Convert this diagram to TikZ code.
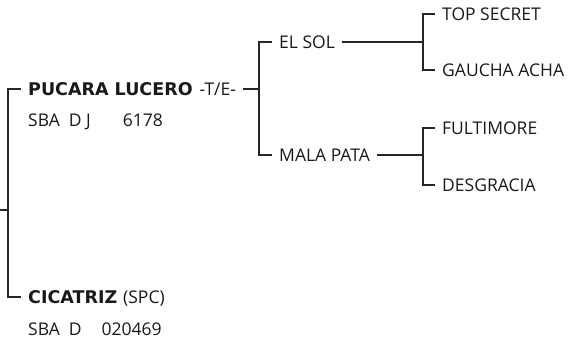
\documentclass[tikz,border=0pt]{standalone}
\usepackage{fontspec}
\setmainfont{Open Sans}[BoldFont={DejaVu Sans Bold}]
\usetikzlibrary{positioning}

\begin{document}
\begin{tikzpicture}[
    x=1pt, y=-1pt,
    horse/.style={
        inner xsep=7pt,
        inner ysep=0pt,
        text height=12.5pt,
        text depth=0pt,
        anchor=west,
        text=black!90,
        font=\fontsize{17.5}{20}\selectfont
    },
    reg/.style={
        horse,
        anchor=north west
    },
    link/.style={
        draw=black!85,
        line width=1.2pt
    }
]
    \useasboundingbox (0,0) rectangle (574,340);

    % --- SIRE AND DAM ---
    \coordinate (root) at (0,210);
    \node [horse] (pucara) at (21,89) {\textbf{PUCARA LUCERO}\hspace{7pt}-T/E-};
    \node [reg, below=18pt of pucara.south west, anchor=north west] (pucarareg) {SBA\hspace{9pt}D J\hspace{32pt}6178};
    \node [horse] (cicatriz) at (21,297) {\textbf{CICATRIZ}\hspace{6pt}(SPC)};
    \node [reg, below=19pt of cicatriz.south west, anchor=north west] (cicatrizreg) {SBA\hspace{9pt}D\hspace{20pt}020469};

    % --- GRANDPARENTS ---
    \coordinate (pfork) at (259,0);
    \node [horse] (elsol) at (272,42) {EL SOL};
    \node [horse] (malapata) at (272,155) {MALA PATA};

    % --- GREAT GRANDPARENTS ---
    \coordinate (gpfork) at (423,0);
    \node [horse] (topsecret) at (435,14) {TOP SECRET};
    \node [horse] (gaucha) at (435,70) {GAUCHA ACHA};
    \node [horse] (fultimore) at (435,128) {FULTIMORE};
    \node [horse] (desgracia) at (435,185) {DESGRACIA};

    % --- LINES ---
    \draw [link] (root) -- ++(8,0) coordinate (rootfork);
    \draw [link] (pucara.west) -| (rootfork) |- (cicatriz.west);

    \draw [link] (pucara.east) -- (pucara.east -| pfork) coordinate (pucarafork);
    \draw [link] (elsol.west) -| (pucarafork) |- (malapata.west);

    \draw [link] (elsol.east) -- (elsol.east -| gpfork) coordinate (elsolfork);
    \draw [link] (topsecret.west) -| (elsolfork) |- (gaucha.west);

    \draw [link] (malapata.east) -- (malapata.east -| gpfork) coordinate (malapatafork);
    \draw [link] (fultimore.west) -| (malapatafork) |- (desgracia.west);

\end{tikzpicture}
\end{document}
